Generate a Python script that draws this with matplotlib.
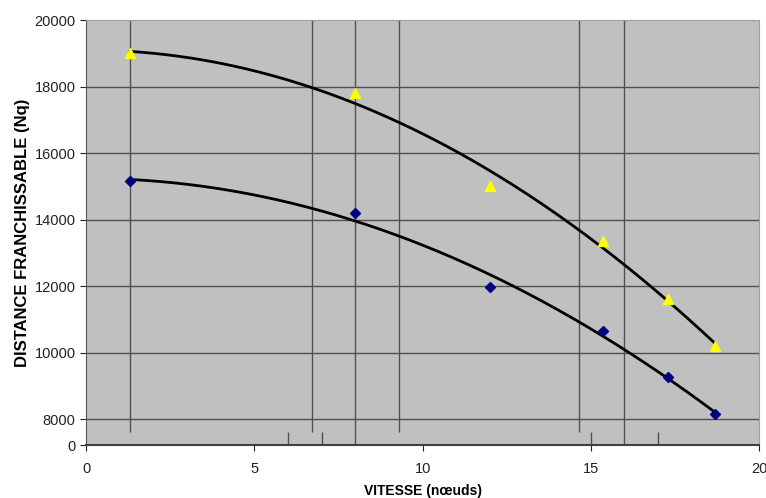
import matplotlib.pyplot as plt
import numpy as np

plt.rcParams['font.family'] = ['Liberation Sans', 'DejaVu Sans']

# speeds (knots) and range (Nq)
vitesse = [1.3, 8.0, 12.0, 15.35, 17.3, 18.7]
distance_haute = [19000, 17800, 15000, 13350, 11620, 10200]
distance_basse = [15160, 14200, 11980, 10650, 9270, 8150]

# vertical reference lines: (x, y start, y end)
reperes_x = [1.3, 6.7, 8.0, 9.3, 14.65, 16.0]
reperes_bas = [4000, 4000, 0, 4000, 4000, 0]
petits_traits_x = [6.0, 7.0, 15.0, 17.0]

y_ticks = [0, 8000, 10000, 12000, 14000, 16000, 18000, 20000]
x_ticks = [0, 5, 10, 15, 20]

# broken y axis: 0..8000 is squeezed
BREAK = 8000
SQUEEZE = 0.0977


def fwd(y):
    y = np.asarray(y, dtype=float)
    return np.where(y >= BREAK, y, BREAK - (BREAK - y) * SQUEEZE)


def inv(y):
    y = np.asarray(y, dtype=float)
    return np.where(y >= BREAK, y, BREAK - (BREAK - y) / SQUEEZE)


fig = plt.figure(figsize=(7.66, 4.98), dpi=100)
ax = fig.add_axes([0.1123, 0.1064, 0.8787, 0.8534])
ax.set_yscale('function', functions=(fwd, inv))
ax.set_facecolor('#c0c0c0')
ax.set_xlim(0, 20)
ax.set_ylim(0, 20000)

grid_col = '#505050'
for yt in y_ticks[1:-1]:
    ax.axhline(yt, color=grid_col, lw=1.0, zorder=1)
for x, yb in zip(reperes_x, reperes_bas):
    ax.vlines(x, yb, 20000, color=grid_col, lw=1.0, zorder=1)
ax.vlines(petits_traits_x, 0, 4000, color=grid_col, lw=1.0, zorder=1)

# quadratic trend lines (like the spreadsheet trendline)
xs = np.linspace(vitesse[0], vitesse[-1], 200)
for serie in (distance_haute, distance_basse):
    coef = np.polyfit(vitesse, serie, 2)
    ax.plot(xs, np.polyval(coef, xs), color='black', lw=2.0, zorder=3)

ax.plot(vitesse, distance_haute, linestyle='none', marker='^', ms=6.5,
        color='#ffff00', zorder=4)
ax.plot(vitesse, distance_basse, linestyle='none', marker='D', ms=4.8,
        color='#000080', zorder=4)

ax.set_yticks(y_ticks)
ax.set_yticklabels([str(v) for v in y_ticks])
ax.set_xticks(x_ticks)
ax.tick_params(axis='both', labelsize=10.5, colors='#222222', length=4)
ax.tick_params(axis='x', pad=8)

for side in ('top', 'right'):
    ax.spines[side].set_color('#a0a0a0')
ax.spines['left'].set_color('#555555')
ax.spines['bottom'].set_color('#404040')
ax.spines['bottom'].set_linewidth(1.5)

ax.set_xlabel('VITESSE (nœuds)', fontsize=10, fontweight='bold', labelpad=6)
ax.set_ylabel('DISTANCE FRANCHISSABLE (Nq)', fontsize=12, fontweight='bold',
              labelpad=3)

fig.savefig('out.png', dpi=100)
